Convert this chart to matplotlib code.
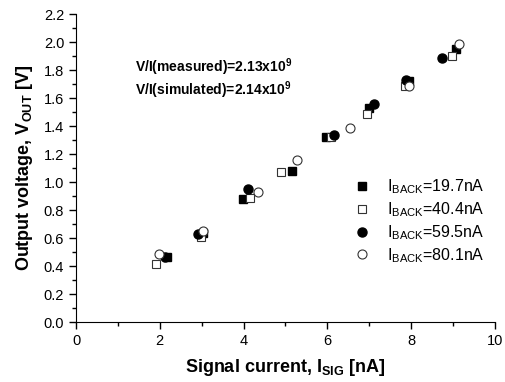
import matplotlib.pyplot as plt
import numpy as np

plt.rcParams['font.family'] = ['Liberation Sans', 'DejaVu Sans']
plt.rcParams['mathtext.fontset'] = 'custom'
plt.rcParams['mathtext.rm'] = 'Liberation Sans'
plt.rcParams['mathtext.bf'] = 'Liberation Sans:bold'
plt.rcParams['mathtext.default'] = 'regular'

# I_BACK = 19.7 nA (filled squares)
x1 = [2.18, 3.03, 3.98, 5.15, 5.96, 7.00, 7.95, 9.07]
y1 = [0.47, 0.64, 0.88, 1.08, 1.32, 1.53, 1.72, 1.95]
# I_BACK = 40.4 nA (open squares)
x2 = [1.92, 2.98, 4.16, 4.89, 6.08, 6.94, 7.86, 8.97]
y2 = [0.42, 0.61, 0.89, 1.075, 1.32, 1.49, 1.69, 1.90]
# I_BACK = 59.5 nA (filled circles)
x3 = [2.13, 2.92, 4.10, 6.16, 7.11, 7.87, 8.74]
y3 = [0.47, 0.63, 0.95, 1.34, 1.56, 1.73, 1.89]
# I_BACK = 80.1 nA (open circles)
x4 = [1.99, 3.04, 4.34, 5.28, 6.54, 7.94, 9.14]
y4 = [0.49, 0.65, 0.93, 1.16, 1.39, 1.69, 1.99]

labels = ['I$_{BACK}$=19.7nA', 'I$_{BACK}$=40.4nA',
          'I$_{BACK}$=59.5nA', 'I$_{BACK}$=80.1nA']

fig = plt.figure(figsize=(5.05, 3.82), dpi=100)
ax = fig.add_axes([0.1505, 0.156, 0.8295, 0.807])

ax.plot(x1, y1, 's', ms=5.8, mfc='black', mec='black', label=labels[0])
ax.plot(x2, y2, 's', ms=5.8, mfc='white', mec='#333333', mew=0.8, label=labels[1])
ax.plot(x3, y3, 'o', ms=6.5, mfc='black', mec='black', label=labels[2])
ax.plot(x4, y4, 'o', ms=6.5, mfc='white', mec='#333333', mew=0.8, label=labels[3])

ax.set_xlim(0, 10)
ax.set_ylim(0, 2.2)
ax.set_xticks(np.arange(0, 11, 2))
ax.set_xticks(np.arange(1, 10, 2), minor=True)
ax.set_yticks(np.arange(0, 2.21, 0.2))
ax.set_yticks(np.arange(0.1, 2.2, 0.2), minor=True)
ax.set_yticklabels(['%.1f' % v for v in np.arange(0, 2.21, 0.2)])
ax.tick_params(which='major', direction='out', length=5, width=1, labelsize=10.5)
ax.tick_params(which='minor', direction='out', length=3, width=1)

ax.spines['top'].set_visible(False)
ax.spines['right'].set_visible(False)

ax.set_xlabel(r'Signal current, I$_\mathbf{SIG}$ [nA]', fontsize=13, fontweight='bold', labelpad=6)
ax.set_ylabel(r'Output voltage, V$_\mathbf{OUT}$ [V]', fontsize=13, fontweight='bold', labelpad=6)

ax.text(1.4, 1.82, r'V/I(measured)=2.13x10$^\mathbf{9}$', fontsize=10, fontweight='bold', va='center')
ax.text(1.4, 1.66, r'V/I(simulated)=2.14x10$^\mathbf{9}$', fontsize=10, fontweight='bold', va='center')

ax.legend(loc='upper left', bbox_to_anchor=(0.64, 0.495), frameon=False,
          fontsize=11.5, handletextpad=1.0, labelspacing=0.25, handlelength=1.2,
          borderpad=0)

fig.savefig('out.png', dpi=100)
